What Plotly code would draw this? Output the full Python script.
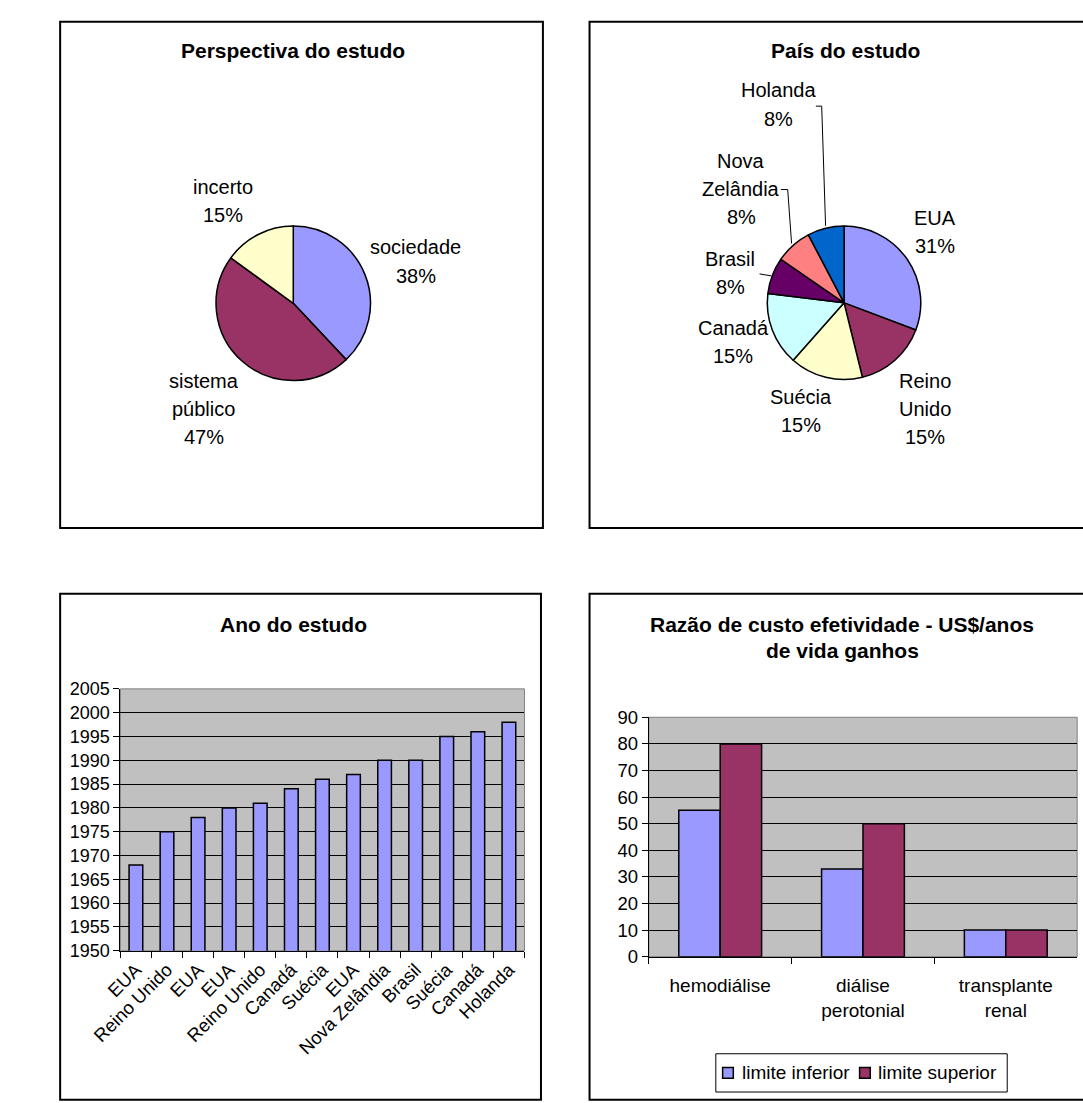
import plotly.graph_objects as go

W, H = 1083, 1103
FONT = "Liberation Sans, Arial, sans-serif"

# ---------------- data ----------------
persp_labels = ["sociedade", "sistema<br>público", "incerto"]
persp_values = [38, 47, 15]
persp_colors = ["#9999FF", "#993366", "#FFFFCC"]

pais_labels = ["EUA", "Reino<br>Unido", "Suécia", "Canadá", "Brasil", "Nova<br>Zelândia", "Holanda"]
pais_values = [4, 2, 2, 2, 1, 1, 1]
pais_colors = ["#9999FF", "#993366", "#FFFFCC", "#CCFFFF", "#660066", "#FF8080", "#0066CC"]

ano_paises = ["EUA", "Reino Unido", "EUA", "EUA", "Reino Unido", "Canadá", "Suécia",
              "EUA", "Nova Zelândia", "Brasil", "Suécia", "Canadá", "Holanda"]
ano_valores = [1968, 1975, 1978, 1980, 1981, 1984, 1986, 1987, 1990, 1990, 1995, 1996, 1998]

custo_categorias = ["hemodiálise", "diálise<br>perotonial", "transplante<br>renal"]
custo_inferior = [55, 33, 10]
custo_superior = [80, 50, 10]
custo_series = ["limite inferior", "limite superior"]
custo_colors = ["#9999FF", "#993366"]


# ---------------- helpers (pixel -> paper) ----------------
def fx(x):
    return x / W


def fy(y):
    return 1 - y / H


def pie_domain(cx, cy, r):
    return dict(x=[fx(cx - r), fx(cx + r)], y=[fy(cy + r), fy(cy - r)])


fig = go.Figure()

# ---------------- pies ----------------
fig.add_trace(go.Pie(
    labels=persp_labels, values=persp_values, sort=False, direction="clockwise", rotation=0,
    marker=dict(colors=persp_colors, line=dict(color="black", width=1.5)),
    textinfo="none", hoverinfo="skip", showlegend=False,
    domain=pie_domain(270, 298, 79.5),
))
fig.add_trace(go.Pie(
    labels=pais_labels, values=pais_values, sort=False, direction="clockwise", rotation=0,
    marker=dict(colors=pais_colors, line=dict(color="black", width=1.5)),
    textinfo="none", hoverinfo="skip", showlegend=False,
    domain=pie_domain(837, 297.5, 79),
))

# ---------------- bars: Ano do estudo ----------------
ano_x = [str(i) for i in range(len(ano_valores))]
fig.add_trace(go.Bar(
    x=ano_x, y=ano_valores, width=0.44,
    marker=dict(color="#9999FF", line=dict(color="black", width=1.5)),
    xaxis="x", yaxis="y", showlegend=False, hoverinfo="skip",
))

# ---------------- bars: custo efetividade ----------------
for name, vals, col in zip(custo_series, [custo_inferior, custo_superior], custo_colors):
    fig.add_trace(go.Bar(
        x=custo_categorias, y=vals, name=name,
        marker=dict(color=col, line=dict(color="black", width=1.5)),
        xaxis="x2", yaxis="y2", hoverinfo="skip", showlegend=False,
    ))

BL = dict(x0=92, x1=508, y0=691, y1=958)
BR = dict(x0=636, x1=1077, y0=720, y1=964)

tickfont = dict(family=FONT, size=18, color="black")

fig.update_layout(
    width=W, height=H, margin=dict(l=0, r=0, t=0, b=0),
    paper_bgcolor="white", plot_bgcolor="#C0C0C0",
    barmode="group", bargap=0.42, bargroupgap=0,
    font=dict(family=FONT, size=19, color="black"),
    showlegend=False,
    xaxis=dict(domain=[fx(BL["x0"]), fx(BL["x1"])], type="category",
               tickmode="array", tickvals=ano_x, ticktext=ano_paises,
               tickangle=-45, tickson="boundaries", ticks="outside", ticklen=6,
               tickcolor="black", showline=True, linecolor="black", linewidth=1,
               showgrid=False, tickfont=dict(tickfont, size=18.5), fixedrange=True),
    yaxis=dict(domain=[fy(BL["y1"]), fy(BL["y0"])], range=[1950, 2005], tick0=1950, dtick=5,
               ticks="outside", ticklen=6, tickcolor="black", showline=True, linecolor="black",
               showgrid=True, gridcolor="black", gridwidth=1, zeroline=False,
               tickfont=tickfont, fixedrange=True),
    xaxis2=dict(domain=[fx(BR["x0"]), fx(BR["x1"])], anchor="y2", type="category",
                tickson="boundaries", ticks="outside", ticklen=6, tickcolor="black",
                showline=True, linecolor="black", showgrid=False, tickfont=dict(tickfont, size=19),
                ticklabelstandoff=12, fixedrange=True),
    yaxis2=dict(domain=[fy(BR["y1"]), fy(BR["y0"])], anchor="x2", range=[0, 90], dtick=10,
                ticks="outside", ticklen=6, tickcolor="black", showline=True, linecolor="black",
                showgrid=True, gridcolor="black", gridwidth=1, zeroline=False,
                tickfont=dict(tickfont, size=18.5), fixedrange=True),
)

shapes = []
# panel borders
for (x0, y0, x1, y1) in [(30, 11, 527, 527), (575, 11, 1101, 527),
                         (30, 594, 525, 1110), (575, 594, 1101, 1110)]:
    shapes.append(dict(type="rect", xref="paper", yref="paper",
                       x0=fx(x0), x1=fx(x1), y0=fy(y1), y1=fy(y0),
                       line=dict(color="black", width=2), layer="above"))
# plot area borders (gray)
for P in (BL, BR):
    shapes.append(dict(type="rect", xref="paper", yref="paper",
                       x0=fx(P["x0"]), x1=fx(P["x1"]), y0=fy(P["y1"]), y1=fy(P["y0"]),
                       line=dict(color="#808080", width=1), layer="below"))
# leader lines for small slices
for pts in [[(808, 97), (814, 97), (818, 219)],
            [(772, 182), (779, 182), (783, 237)],
            [(750, 268), (762, 270)]]:
    path = "M " + " L ".join(f"{fx(a)},{fy(b)}" for a, b in pts)
    shapes.append(dict(type="path", xref="paper", yref="paper", path=path,
                       line=dict(color="black", width=1)))

# legend box (drawn like the original chart legend)
shapes.append(dict(type="rect", xref="paper", yref="paper",
                   x0=fx(705), x1=fx(1005), y0=fy(1102), y1=fy(1063),
                   line=dict(color="black", width=1), fillcolor="white"))
legend_items = [(712, 732), (853, 872)]  # (symbol left, text left) in px
for (sx, tx), col in zip(legend_items, custo_colors):
    shapes.append(dict(type="rect", xref="paper", yref="paper",
                       x0=fx(sx), x1=fx(sx + 11), y0=fy(1088), y1=fy(1077),
                       line=dict(color="black", width=1.5), fillcolor=col))
fig.update_layout(shapes=shapes)

annotations = []


def add_text(x, y, text, size=20, bold=False, xanchor="center"):
    annotations.append(dict(
        x=fx(x), y=fy(y), xref="paper", yref="paper", text=text, showarrow=False,
        xanchor=xanchor, yanchor="middle",
        font=dict(family=FONT, size=size, color="black", weight="bold" if bold else "normal"),
    ))


# titles
add_text(270, 40, "Perspectiva do estudo", 21, True)
add_text(838, 40, "País do estudo", 21, True)
add_text(270, 625, "Ano do estudo", 21, True)
add_text(835, 625, "Razão de custo efetividade - US$/anos", 21, True)
add_text(835, 652, "de vida ganhos", 21, True)

# legend texts
for (sx, tx), name in zip(legend_items, custo_series):
    add_text(tx - 2, 1082, name, 19, False, "left")

LINE = 28.7


def pie_labels(labels, values, positions):
    total = sum(values)
    for lab, v, (x, y) in zip(labels, values, positions):
        lines = lab.split("<br>") + [f"{round(100 * v / total)}%"]
        for k, line in enumerate(lines):
            add_text(x, y + k * LINE, line)


pie_labels(persp_labels, persp_values, [(396, 241), (178, 377), (198, 179)])
pie_labels(pais_labels, pais_values,
           [(931, 211), (920, 377), (793, 393), (723, 323), (720, 253), (731, 153), (770, 81)])

fig.update_layout(annotations=annotations)

fig.write_html("out.html")
